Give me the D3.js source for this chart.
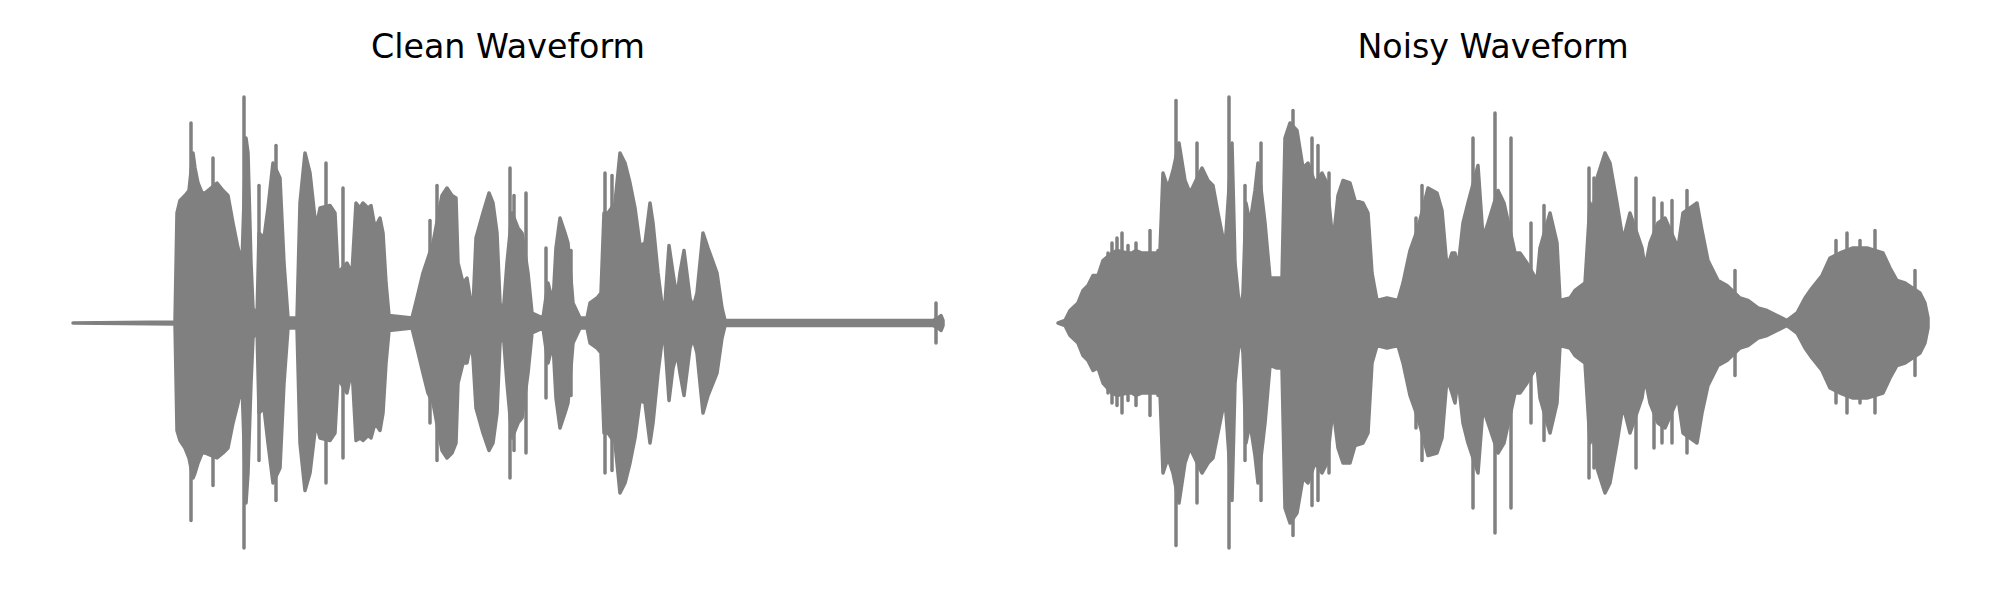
<!DOCTYPE html>
<html>
<head>
<meta charset="utf-8">
<script src="https://cdn.jsdelivr.net/npm/d3@7"></script>
<style>
  html, body { margin: 0; padding: 0; background: #ffffff; }
  svg { display: block; }
</style>
</head>
<body>
<svg id="chart" width="2000" height="600"></svg>
<script>
// ---------------- DATA ----------------
const panelTitles = ["Clean Waveform", "Noisy Waveform"];

// Clean waveform: envelope (time in s, upper and lower amplitude)
const cleanTime = [0, 1.02, 1.04, 1.07, 1.12, 1.16, 1.20, 1.22, 1.25, 1.29, 1.32, 1.44, 1.50, 1.55, 1.60, 1.65, 1.69, 1.73, 1.75, 1.78, 1.80,
  1.84, 1.86, 1.91, 1.95, 2.00, 2.07, 2.11, 2.15, 2.24, 2.27, 2.32, 2.37, 2.43, 2.47, 2.57, 2.62, 2.65, 2.74, 2.79, 2.83,
  2.87, 2.90, 2.95, 2.98, 3.02, 3.07, 3.10, 3.13, 3.16, 3.39, 3.44, 3.50, 3.55, 3.60, 3.69, 3.74, 3.79, 3.83, 3.85, 3.90,
  3.94, 3.98, 4.00, 4.03, 4.10, 4.16, 4.20, 4.24, 4.27, 4.30, 4.34, 4.39, 4.45, 4.49, 4.55, 4.59, 4.70, 4.75, 4.80, 4.83,
  4.87, 4.92, 4.95, 5.00, 5.07, 5.14, 5.17, 5.24, 5.28, 5.31, 5.35, 5.42, 5.47, 5.52, 5.57, 5.62, 5.67, 5.72, 5.77, 5.80,
  5.85, 5.90, 5.92, 5.96, 6.00, 6.04, 6.07, 6.11, 6.17, 6.20, 6.24, 6.30, 6.35, 6.44, 6.49, 6.52, 8.60, 8.65, 8.68, 8.70];
const cleanUpper = [0, 0.004, 0.44, 0.49, 0.51, 0.53, 0.68, 0.62, 0.56, 0.52, 0.52, 0.56, 0.53, 0.51, 0.40, 0.30, 0.24, 0.74, 0.68, 0.24, 0.06,
  0.02, 0.36, 0.34, 0.46, 0.64, 0.58, 0.24, 0.02, 0.02, 0.48, 0.68, 0.60, 0.38, 0.46, 0.47, 0.44, 0.20, 0.24, 0.20, 0.48,
  0.46, 0.48, 0.46, 0.47, 0.38, 0.42, 0.36, 0.16, 0.03, 0.02, 0.10, 0.20, 0.26, 0.32, 0.51, 0.54, 0.51, 0.50, 0.24, 0.16,
  0.18, 0.08, 0.06, 0.34, 0.44, 0.52, 0.48, 0.36, 0.08, 0.03, 0.24, 0.44, 0.38, 0.36, 0.20, 0.04, 0.02, 0.16, 0.08, 0.30,
  0.42, 0.36, 0.32, 0.08, 0.02, 0.02, 0.08, 0.10, 0.12, 0.44, 0.44, 0.48, 0.68, 0.64, 0.56, 0.46, 0.31, 0.32, 0.48, 0.40,
  0.20, 0.04, 0.08, 0.31, 0.20, 0.10, 0.20, 0.29, 0.10, 0.06, 0.12, 0.36, 0.30, 0.20, 0.06, 0.01, 0.01, 0.02, 0.03, 0.01];
const cleanLower = [0, -0.004, -0.43, -0.47, -0.50, -0.54, -0.62, -0.60, -0.56, -0.52, -0.52, -0.54, -0.52, -0.50, -0.40, -0.32, -0.24, -0.72, -0.60, -0.24, -0.06,
  -0.02, -0.36, -0.34, -0.48, -0.64, -0.58, -0.24, -0.02, -0.02, -0.48, -0.67, -0.60, -0.40, -0.46, -0.47, -0.44, -0.22, -0.28, -0.18, -0.47,
  -0.46, -0.47, -0.45, -0.46, -0.40, -0.43, -0.36, -0.16, -0.03, -0.02, -0.10, -0.20, -0.28, -0.32, -0.51, -0.54, -0.52, -0.48, -0.24, -0.16,
  -0.16, -0.08, -0.14, -0.34, -0.44, -0.51, -0.48, -0.36, -0.08, -0.03, -0.24, -0.46, -0.40, -0.38, -0.20, -0.04, -0.02, -0.16, -0.08, -0.30,
  -0.42, -0.36, -0.32, -0.08, -0.02, -0.02, -0.08, -0.10, -0.12, -0.44, -0.44, -0.48, -0.68, -0.64, -0.56, -0.46, -0.31, -0.32, -0.48, -0.40,
  -0.20, -0.04, -0.08, -0.31, -0.18, -0.12, -0.20, -0.29, -0.10, -0.06, -0.12, -0.36, -0.29, -0.20, -0.06, -0.01, -0.01, -0.02, -0.03, -0.01];
// Clean waveform: isolated sharp peaks
const cleanSpikeTime  = [1.18, 1.30, 1.40, 1.71, 1.86, 2.03, 2.53, 2.70, 3.57, 3.64, 4.04, 4.37, 4.41, 4.53, 4.73, 4.98, 5.32, 5.39, 8.63];
const cleanSpikeUpper = [0.80, 0.52, 0.66, 0.904, 0.55, 0.71, 0.64, 0.54, 0.41, 0.55, 0.35, 0.62, 0.51, 0.52, 0.30, 0.29, 0.60, 0.59, 0.08];
const cleanSpikeLower = [-0.79, -0.50, -0.65, -0.90, -0.55, -0.71, -0.64, -0.54, -0.40, -0.55, -0.35, -0.62, -0.51, -0.52, -0.30, -0.29, -0.60, -0.59, -0.08];

// Noisy waveform: envelope
const noisyTime = [0.00, 0.07, 0.12, 0.20, 0.25, 0.30, 0.35, 0.40, 0.45, 0.54, 0.59, 0.69, 0.74, 0.78, 0.84, 0.88, 0.99, 1.02, 1.05, 1.10,
  1.15, 1.21, 1.27, 1.32, 1.44, 1.50, 1.55, 1.60, 1.67, 1.74, 1.77, 1.82, 1.85, 1.88, 1.92, 1.97, 2.00, 2.07, 2.12, 2.19,
  2.24, 2.27, 2.32, 2.39, 2.45, 2.50, 2.57, 2.64, 2.69, 2.75, 2.80, 2.85, 2.92, 2.97, 3.05, 3.10, 3.14, 3.19, 3.29, 3.40,
  3.45, 3.52, 3.60, 3.70, 3.79, 3.84, 3.89, 3.94, 3.97, 4.00, 4.05, 4.10, 4.20, 4.25, 4.30, 4.40, 4.46, 4.57, 4.62, 4.69,
  4.79, 4.82, 4.92, 4.99, 5.02, 5.12, 5.17, 5.27, 5.32, 5.35, 5.39, 5.47, 5.52, 5.59, 5.65, 5.72, 5.84, 5.87, 5.92, 6.00,
  6.07, 6.20, 6.25, 6.39, 6.44, 6.50, 6.60, 6.69, 6.82, 6.90, 7.00, 7.09, 7.19, 7.29, 7.39, 7.47, 7.54, 7.64, 7.72, 7.82,
  7.95, 8.09, 8.25, 8.32, 8.39, 8.47, 8.62, 8.67, 8.70];
const noisyUpper = [0, 0.01, 0.05, 0.08, 0.13, 0.15, 0.19, 0.19, 0.25, 0.28, 0.29, 0.28, 0.28, 0.29, 0.28, 0.28, 0.28, 0.29, 0.60, 0.54,
  0.61, 0.72, 0.57, 0.52, 0.62, 0.57, 0.55, 0.44, 0.30, 0.72, 0.24, 0.04, 0.12, 0.48, 0.40, 0.53, 0.64, 0.40, 0.18, 0.18,
  0.18, 0.74, 0.80, 0.77, 0.62, 0.64, 0.56, 0.60, 0.56, 0.32, 0.51, 0.57, 0.56, 0.49, 0.48, 0.44, 0.20, 0.09, 0.10, 0.09,
  0.16, 0.29, 0.38, 0.54, 0.52, 0.45, 0.22, 0.28, 0.28, 0.22, 0.40, 0.48, 0.63, 0.34, 0.40, 0.53, 0.48, 0.28, 0.28, 0.24,
  0.17, 0.30, 0.44, 0.32, 0.09, 0.10, 0.13, 0.16, 0.48, 0.44, 0.58, 0.68, 0.64, 0.48, 0.33, 0.44, 0.30, 0.22, 0.32, 0.40,
  0.42, 0.30, 0.44, 0.48, 0.37, 0.25, 0.17, 0.15, 0.10, 0.09, 0.06, 0.05, 0.03, 0.01, 0.04, 0.10, 0.14, 0.19, 0.26, 0.28,
  0.30, 0.30, 0.28, 0.22, 0.17, 0.16, 0.12, 0.08, 0.02];
const noisyLower = [0, -0.01, -0.05, -0.08, -0.13, -0.15, -0.19, -0.18, -0.24, -0.28, -0.29, -0.28, -0.28, -0.29, -0.28, -0.28, -0.28, -0.28, -0.60, -0.54,
  -0.60, -0.72, -0.56, -0.50, -0.60, -0.56, -0.54, -0.44, -0.30, -0.71, -0.24, -0.04, -0.12, -0.48, -0.40, -0.53, -0.64, -0.40, -0.17, -0.18,
  -0.18, -0.74, -0.80, -0.76, -0.62, -0.64, -0.56, -0.60, -0.56, -0.34, -0.50, -0.56, -0.56, -0.49, -0.48, -0.44, -0.16, -0.09, -0.10, -0.09,
  -0.16, -0.29, -0.38, -0.53, -0.52, -0.46, -0.22, -0.28, -0.32, -0.22, -0.40, -0.48, -0.60, -0.34, -0.40, -0.52, -0.48, -0.28, -0.28, -0.24,
  -0.17, -0.30, -0.44, -0.32, -0.09, -0.10, -0.13, -0.16, -0.48, -0.44, -0.58, -0.68, -0.64, -0.48, -0.33, -0.44, -0.30, -0.22, -0.32, -0.40,
  -0.42, -0.30, -0.44, -0.48, -0.36, -0.25, -0.17, -0.15, -0.10, -0.09, -0.06, -0.05, -0.03, -0.01, -0.04, -0.10, -0.14, -0.19, -0.26, -0.28,
  -0.30, -0.30, -0.28, -0.22, -0.17, -0.16, -0.12, -0.08, -0.02];
// Noisy waveform: isolated sharp peaks
const noisySpikeTime  = [0.50, 0.54, 0.59, 0.64, 0.70, 0.78, 0.92, 1.00, 1.18, 1.39, 1.71, 1.87, 2.03, 2.35, 2.44, 2.54, 2.60, 2.71, 3.58, 3.64, 4.15, 4.37, 4.53, 4.73, 4.86, 5.31, 5.36, 5.78, 5.96, 6.04, 6.14, 6.29, 6.77, 7.78, 7.89, 8.02, 8.17, 8.57];
const noisySpikeUpper = [0.28, 0.32, 0.34, 0.36, 0.31, 0.32, 0.37, 0.29, 0.89, 0.72, 0.904, 0.55, 0.72, 0.85, 0.62, 0.74, 0.71, 0.60, 0.42, 0.55, 0.74, 0.84, 0.74, 0.40, 0.47, 0.62, 0.58, 0.58, 0.50, 0.48, 0.49, 0.53, 0.21, 0.33, 0.36, 0.33, 0.37, 0.21];
const noisySpikeLower = [-0.28, -0.32, -0.33, -0.36, -0.31, -0.33, -0.37, -0.29, -0.89, -0.72, -0.90, -0.55, -0.71, -0.85, -0.62, -0.73, -0.71, -0.60, -0.42, -0.55, -0.74, -0.84, -0.74, -0.40, -0.47, -0.62, -0.58, -0.58, -0.50, -0.48, -0.48, -0.52, -0.21, -0.32, -0.36, -0.32, -0.36, -0.21];

// ---------------- DRAWING ----------------
function zipCheck(name, ...arrs) {
  const n = arrs[0].length;
  arrs.forEach(a => { if (a.length !== n) throw new Error(name + " length mismatch: " + arrs.map(x => x.length).join(",")); });
  return d3.range(n).map(i => ({ t: arrs[0][i], hi: arrs[1][i], lo: arrs[2][i] }));
}

const panels = [
  { title: panelTitles[0], left: 73,   right: 943,
    body: zipCheck("clean", cleanTime, cleanUpper, cleanLower),
    spikes: zipCheck("cleanSpike", cleanSpikeTime, cleanSpikeUpper, cleanSpikeLower) },
  { title: panelTitles[1], left: 1058, right: 1928,
    body: zipCheck("noisy", noisyTime, noisyUpper, noisyLower),
    spikes: zipCheck("noisySpike", noisySpikeTime, noisySpikeUpper, noisySpikeLower) }
];

const svg = d3.select("#chart");
svg.append("rect").attr("width", 2000).attr("height", 600).attr("fill", "#ffffff");

const color = "#808080";
const y = d3.scaleLinear().domain([-1, 1]).range([573, 73]);

panels.forEach(p => {
  const x = d3.scaleLinear().domain([0, 8.7]).range([p.left, p.right]);
  const g = svg.append("g");

  g.append("text")
    .attr("x", (p.left + p.right) / 2)
    .attr("y", 58)
    .attr("text-anchor", "middle")
    .attr("font-family", "DejaVu Sans, sans-serif")
    .attr("font-size", "33.3px")
    .attr("fill", "#000000")
    .text(p.title);

  const area = d3.area()
    .x(d => x(d.t))
    .y0(d => y(d.lo))
    .y1(d => y(d.hi))
    .curve(d3.curveLinear);

  g.append("path")
    .datum(p.body)
    .attr("d", area)
    .attr("fill", color)
    .attr("stroke", color)
    .attr("stroke-width", 3.5)
    .attr("stroke-linejoin", "round");

  g.selectAll("line.spike")
    .data(p.spikes)
    .join("line")
    .attr("class", "spike")
    .attr("x1", d => x(d.t)).attr("x2", d => x(d.t))
    .attr("y1", d => y(d.lo)).attr("y2", d => y(d.hi))
    .attr("stroke", color)
    .attr("stroke-width", 3.5)
    .attr("stroke-linecap", "round");
});
</script>
</body>
</html>
